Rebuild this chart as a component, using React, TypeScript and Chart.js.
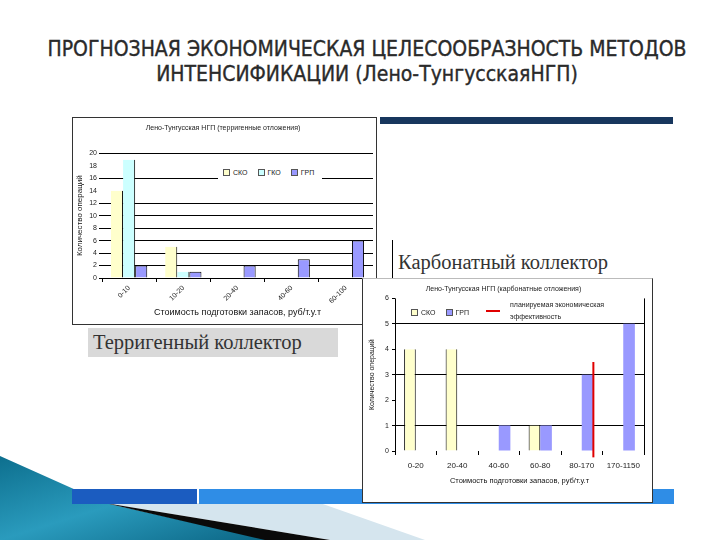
import React, { useEffect, useRef } from "react";
import { Chart, registerables } from "chart.js";

Chart.register(...registerables);

// ---------- data ----------
const slideTitle = [
  "ПРОГНОЗНАЯ ЭКОНОМИЧЕСКАЯ ЦЕЛЕСООБРАЗНОСТЬ МЕТОДОВ",
  "ИНТЕНСИФИКАЦИИ (Лено-ТунгусскаяНГП)",
];

const xAxisTitle = "Стоимость подготовки запасов, руб/т.у.т";
const yAxisTitle = "Количество операций";

const terrTitle = "Лено-Тунгусская НГП (терригенные отложения)";
const terrLabel = "Терригенный коллектор";
const terrCategories = ["0-10", "10-20", "20-40", "40-60", "60-100"];
const terrSeriesNames = ["СКО", "ГКО", "ГРП"];
const terrSKO = [14, 5, null, null, null];
const terrGKO = [19, 1, null, null, null];
const terrGRP = [2, 1, 2, 3, 6];
const terrYMax = 20;
const terrYStep = 2;
const terrHiddenGrid = [14, 18];

const carbTitle = "Лено-Тунгусская НГП (карбонатные отложения)";
const carbLabel = "Карбонатный коллектор";
const carbCategories = ["0-20", "20-40", "40-60", "60-80", "80-170", "170-1150"];
const carbSeriesNames = ["СКО", "ГРП"];
const carbSKO = [4, 4, null, 1, null, null];
const carbGRP = [null, null, 1, 1, 3, 5];
const carbYMax = 6;
const carbYStep = 1;
const carbGridValues = [1, 3, 5];
const planName = ["планируемая экономическая", "эффективность"];
const planCategory = "80-170";
const planTop = 3.5;
const planBottom = -0.25;

// ---------- styles ----------
const YELLOW = "#FFFFCC";
const CYAN = "#CCFFFF";
const BLUE = "#9999FF";
const RED = "#E00000";
const TEXT = "#222";
const FONT = "'Liberation Sans', Arial, sans-serif";

Chart.defaults.font.family = FONT;
Chart.defaults.color = TEXT;

const planPlugin = {
  id: "planLine",
  afterDatasetsDraw(chart: any) {
    const idx = chart.data.labels.indexOf(planCategory);
    const meta = chart.getDatasetMeta(1);
    const bar = meta.data[idx];
    if (!bar) return;
    const x = bar.x + bar.width / 2;
    const ys = chart.scales.y;
    const c = chart.ctx;
    c.save();
    c.strokeStyle = RED;
    c.lineWidth = 2;
    c.beginPath();
    c.moveTo(x, ys.getPixelForValue(planTop));
    c.lineTo(x, ys.getPixelForValue(planBottom));
    c.stroke();
    c.restore();
  },
};

function TerrChart() {
  const ref = useRef<HTMLCanvasElement>(null);
  useEffect(() => {
    const chart = new Chart(ref.current!, {
      type: "bar",
      data: {
        labels: terrCategories,
        datasets: [
          { label: terrSeriesNames[0], data: terrSKO, backgroundColor: YELLOW, borderColor: "#000", borderWidth: { right: 1 } as any },
          { label: terrSeriesNames[1], data: terrGKO, backgroundColor: CYAN, borderColor: "#000", borderWidth: { right: 1 } as any },
          { label: terrSeriesNames[2], data: terrGRP, backgroundColor: BLUE, borderColor: "#000", borderWidth: 1 },
        ],
      },
      options: {
        responsive: false,
        animation: false,
        layout: { padding: { left: 0, right: 3, top: 0, bottom: 0 } },
        datasets: { bar: { categoryPercentage: 0.67, barPercentage: 1 } },
        plugins: {
          legend: { display: false },
          tooltip: { enabled: false },
          title: { display: true, text: terrTitle, font: { size: 7, weight: "normal" }, color: TEXT, padding: { top: 6, bottom: 21 } },
        },
        scales: {
          x: {
            grid: { drawOnChartArea: false, tickLength: 4, color: "#000" },
            border: { display: false },
            ticks: { minRotation: 45, maxRotation: 45, font: { size: 7 }, color: TEXT, padding: 2 },
            title: { display: true, text: xAxisTitle, font: { size: 9 }, color: "#111", padding: { top: 0, bottom: 6 } },
            afterFit: (s: any) => { s.height = 46; },
          },
          y: {
            min: 0,
            max: terrYMax,
            ticks: { stepSize: terrYStep, font: { size: 7 }, color: TEXT, padding: 2 },
            grid: {
              color: (c: any) => (terrHiddenGrid.includes(c.tick?.value) ? "rgba(0,0,0,0)" : "#000"),
              tickLength: 3,
            },
            border: { display: false },
            title: { display: true, text: yAxisTitle, font: { size: 8 }, color: "#111", padding: { top: 2, bottom: 0 } },
            afterFit: (s: any) => { s.width = 29; },
          },
        },
      } as any,
    });
    return () => chart.destroy();
  }, []);
  return <canvas ref={ref} width={303} height={206} style={{ width: 303, height: 206, display: "block" }} />;
}

function CarbChart() {
  const ref = useRef<HTMLCanvasElement>(null);
  useEffect(() => {
    const chart = new Chart(ref.current!, {
      type: "bar",
      data: {
        labels: carbCategories,
        datasets: [
          { label: carbSeriesNames[0], data: carbSKO, backgroundColor: YELLOW, borderColor: "#000", borderWidth: { left: 1, right: 1 } as any },
          { label: carbSeriesNames[1], data: carbGRP, backgroundColor: BLUE, borderWidth: 0 },
        ],
      },
      options: {
        responsive: false,
        animation: false,
        layout: { padding: { left: 0, right: 8, top: 0, bottom: 0 } },
        datasets: { bar: { categoryPercentage: 0.56, barPercentage: 1 } },
        plugins: {
          legend: { display: false },
          tooltip: { enabled: false },
          title: { display: true, text: carbTitle, font: { size: 7, weight: "normal" }, color: TEXT, padding: { top: 6, bottom: 5 } },
        },
        scales: {
          x: {
            grid: {
              drawOnChartArea: true,
              color: (c: any) => (c.type !== "tick" || c.index === 0 ? "#000" : "rgba(0,0,0,0)"),
              tickColor: "#000",
              tickLength: 4,
            },
            border: { display: false },
            ticks: { maxRotation: 0, font: { size: 8 }, color: TEXT, padding: 6 },
            title: { display: true, text: xAxisTitle, font: { size: 7.5 }, color: "#111", padding: { top: 0, bottom: 17 } },
            afterFit: (s: any) => { s.height = 51; },
          },
          y: {
            min: 0,
            max: carbYMax,
            ticks: { stepSize: carbYStep, font: { size: 7 }, color: TEXT, padding: 3 },
            grid: {
              color: (c: any) => (carbGridValues.includes(c.tick?.value) ? "#000" : "rgba(0,0,0,0)"),
              tickColor: "#000",
              tickLength: 3,
            },
            border: { display: false },
            title: { display: true, text: yAxisTitle, font: { size: 7 }, color: "#111", padding: { top: 5, bottom: 0 } },
            afterFit: (s: any) => { s.width = 32; },
          },
        },
      } as any,
      plugins: [planPlugin],
    });
    return () => chart.destroy();
  }, []);
  return <canvas ref={ref} width={289} height={223} style={{ width: 289, height: 223, display: "block" }} />;
}

const legendText: React.CSSProperties = { fontFamily: FONT, fontSize: 7, color: TEXT, whiteSpace: "nowrap" };

function Marker({ color }: { color: string }) {
  return <span style={{ display: "inline-block", width: 5, height: 5, background: color, border: "0.5px solid #555", marginRight: 3 }} />;
}

export default function App() {
  const terrColors = [YELLOW, CYAN, BLUE];
  const carbColors = [YELLOW, BLUE];
  return (
    <div style={{ position: "absolute", left: 0, top: 0, width: 720, height: 540, background: "#fff", overflow: "hidden" }}>
      {/* title */}
      <div style={{ position: "absolute", left: 0, top: 37, width: 734, textAlign: "center", fontFamily: "'DejaVu Sans Condensed', 'DejaVu Sans', sans-serif", fontSize: 21, lineHeight: "25px", color: "#2a2a2a", WebkitTextStroke: "0.35px #2a2a2a" }}>
        {slideTitle.map((t, i) => <div key={i}>{t}</div>)}
      </div>

      {/* bottom-left decoration */}
      <svg width={720} height={540} style={{ position: "absolute", left: 0, top: 0 }}>
        <defs>
          <linearGradient id="teal" x1="0" y1="0" x2="1" y2="1">
            <stop offset="0" stopColor="#0d6f8e" />
            <stop offset="0.5" stopColor="#2a9bbd" />
            <stop offset="1" stopColor="#0b6584" />
          </linearGradient>
        </defs>
        <polygon points="0,456 105,503 270,540 0,540" fill="url(#teal)" />
        <polygon points="320,503 425,540 330,540 105,503" fill="#d5e5ee" />
        <polygon points="105,503 330,540 265,540" fill="#0a0a0a" />
      </svg>

      {/* bottom blue bar */}
      <div style={{ position: "absolute", left: 72, top: 489, width: 125, height: 15, background: "#1b5cc0" }} />
      <div style={{ position: "absolute", left: 199, top: 489, width: 475, height: 15, background: "#2f8de6" }} />

      {/* top navy bar */}
      <div style={{ position: "absolute", left: 380, top: 117, width: 293, height: 7, background: "#17365d" }} />

      {/* left panel */}
      <div style={{ position: "absolute", left: 72, top: 117, width: 303, height: 206, border: "1px solid #333", background: "#fff" }}>
        <TerrChart />
        <div style={{ position: "absolute", left: 145, top: 47, width: 104, height: 15, background: "#fff", display: "flex", alignItems: "center", paddingLeft: 5, boxSizing: "border-box" }}>
          {terrSeriesNames.map((n, i) => (
            <span key={n} style={{ display: "inline-flex", alignItems: "center", marginRight: 10, ...legendText }}>
              <Marker color={terrColors[i]} />
              {n}
            </span>
          ))}
        </div>
      </div>

      {/* Терригенный коллектор */}
      <div style={{ position: "absolute", left: 88, top: 328, width: 250, height: 29, background: "#d9d9d9", fontFamily: "'Liberation Serif', 'DejaVu Serif', serif", fontSize: 20.5, lineHeight: "29px", color: "#333", paddingLeft: 5, boxSizing: "border-box" }}>
        {terrLabel}
      </div>

      {/* Карбонатный коллектор */}
      <div style={{ position: "absolute", left: 392, top: 240, width: 1, height: 38, background: "#000" }} />
      <div style={{ position: "absolute", left: 398, top: 249, fontFamily: "'Liberation Serif', 'DejaVu Serif', serif", fontSize: 20.5, lineHeight: "26px", color: "#333", whiteSpace: "nowrap" }}>
        {carbLabel}
      </div>

      {/* right panel */}
      <div style={{ position: "absolute", left: 362, top: 278, width: 289, height: 223, border: "1px solid #333", borderTop: "1px solid #bbb", background: "#fff" }}>
        <CarbChart />
        <div style={{ position: "absolute", left: 48, top: 30, display: "flex", alignItems: "center" }}>
          {carbSeriesNames.map((n, i) => (
            <span key={n} style={{ display: "inline-flex", alignItems: "center", marginRight: 10, ...legendText }}>
              <Marker color={carbColors[i]} />
              {n}
            </span>
          ))}
        </div>
        <div style={{ position: "absolute", left: 123, top: 31, width: 14, height: 2, background: RED }} />
        <div style={{ position: "absolute", left: 147, top: 20, ...legendText, lineHeight: "12px" }}>
          {planName.map((t, i) => <div key={i}>{t}</div>)}
        </div>
      </div>
    </div>
  );
}
